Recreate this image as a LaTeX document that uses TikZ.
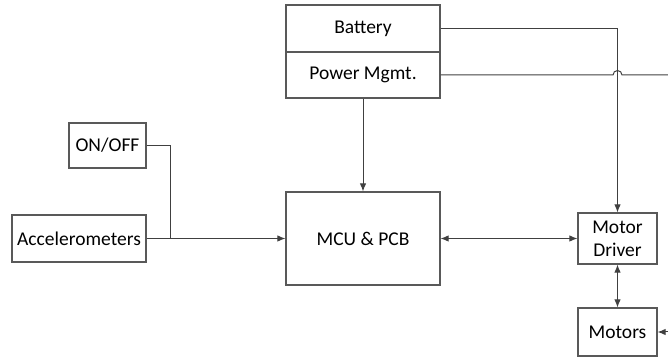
\documentclass[tikz,border=0pt]{standalone}
\usepackage{fontspec}
\setmainfont{Carlito}
\usetikzlibrary{arrows.meta}
\begin{document}
\begin{tikzpicture}[x=1pt,y=1pt,line cap=butt,line join=miter,
  font=\fontsize{19.5}{23}\selectfont,
  blk/.style={draw=black!65,line width=1.2pt,fill=white,inner sep=0pt,align=center},
  wire/.style={draw=black!75,line width=1pt},
  tip/.style={-{Latex[length=8pt,width=6.5pt]}},
  tips/.style={{Latex[length=8pt,width=6.5pt]}-{Latex[length=8pt,width=6.5pt]}}]
  \useasboundingbox (0,0) rectangle (668,358);
  \node[blk,minimum width=154,minimum height=47] (batt) at (363,329.5) {Battery};
  \node[blk,minimum width=154,minimum height=46] (pwr) at (363,283) {Power Mgmt.};
  \node[blk,minimum width=77,minimum height=45] (onoff) at (107.5,212.5) {ON/OFF};
  \node[blk,minimum width=134,minimum height=47] (accel) at (79,119.5) {Accelerometers};
  \node[blk,minimum width=154,minimum height=93] (mcu) at (363,119.5) {MCU \& PCB};
  \node[blk,minimum width=79,minimum height=51] (drv) at (617.5,119.5) {Motor\\Driver};
  \node[blk,minimum width=79,minimum height=48] (mot) at (617.5,26) {Motors};
  \coordinate (join) at (170,119.5);
  \coordinate (pwrout) at (668,283);
  \coordinate (motin) at (668,26);
  \draw[wire,tip] (pwr.south) -- (mcu.north);
  \draw[wire,tip] (accel.east) -- (mcu.west);
  \draw[wire] (onoff.east) -| (join);
  \draw[wire,tip] (batt.east) -| (drv.north);
  \draw[wire] (pwr.east) -- (613,283) arc (180:0:4.5) -- (pwrout);
  \draw[wire,tips] (mcu.east) -- (drv.west);
  \draw[wire,tips] (drv.south) -- (mot.north);
  \draw[wire,tip] (motin) -- (mot.east);
\end{tikzpicture}
\end{document}
